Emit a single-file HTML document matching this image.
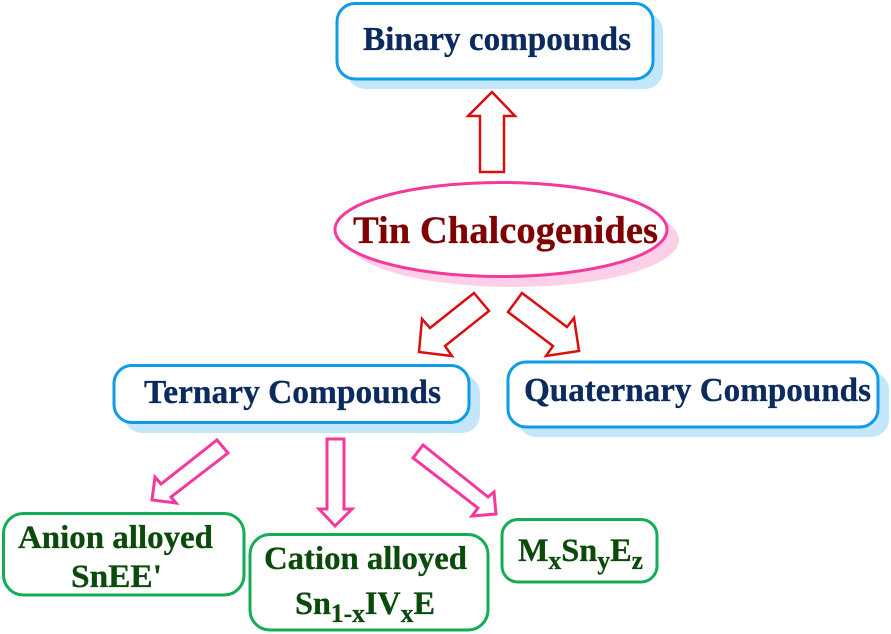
<!DOCTYPE html>
<html>
<head>
<meta charset="utf-8">
<style>
html,body{margin:0;padding:0;background:#fff;}
svg{display:block;}
text{font-family:"Liberation Serif",serif;font-weight:bold;}
.n{fill:#0b2a5e;stroke:#0b2a5e;stroke-width:.3;font-size:34px;}
.g{fill:#0b4a0b;stroke:#0b4a0b;stroke-width:.3;font-size:33px;}
.bl{fill:#fff;stroke:#0f9be6;stroke-width:3;}
.gr{fill:#fff;stroke:#12ad56;stroke-width:3;}
.sh{fill:#c4e6fa;}
.r{fill:#fff;stroke:#d90e0e;stroke-width:2.500;stroke-linejoin:miter;}
.p{fill:#fff;stroke:#f5389b;stroke-width:3;stroke-linejoin:miter;}
</style>
</head>
<body>
<svg width="891" height="634" viewBox="0 0 891 634" xmlns="http://www.w3.org/2000/svg">
<rect class="sh" x="347" y="13" width="316" height="76" rx="18"/>
<rect class="bl" x="337" y="3.500" width="316" height="75.500" rx="18"/>
<text class="n" x="363" y="50" textLength="268" lengthAdjust="spacingAndGlyphs">Binary compounds</text>

<polygon class="r" points="492,92 468,116 480,116 480,172 504,172 504,116 515,116"/>

<ellipse cx="513" cy="240" rx="166" ry="47" fill="#fdd0e8"/>
<ellipse cx="501" cy="229.500" rx="166" ry="47" fill="#fff" stroke="#f5389b" stroke-width="3"/>
<text x="353" y="243" textLength="305" lengthAdjust="spacingAndGlyphs" style="fill:#7f0000;stroke:#7f0000;stroke-width:.3;font-size:39px">Tin Chalcogenides</text>

<polygon class="r" points="474,293 489,311 445,346 452,356 419,352 422,319 430,328"/>
<polygon class="r" points="522,293 508,312 553,346 546,356 579,351 574,318 567,327"/>

<rect class="sh" x="124" y="375" width="356" height="58" rx="18"/>
<rect class="bl" x="114" y="365.500" width="355" height="57" rx="18"/>
<text class="n" x="144" y="403" textLength="297" lengthAdjust="spacingAndGlyphs">Ternary Compounds</text>

<rect class="sh" x="518" y="372" width="371" height="65" rx="18"/>
<rect class="bl" x="508" y="362" width="370" height="65" rx="18"/>
<text class="n" x="524" y="401" textLength="347" lengthAdjust="spacingAndGlyphs">Quaternary Compounds</text>

<polygon class="p" points="217,440 228,453 171,497 176,503 152,500 155,477 161,484"/>
<polygon class="p" points="327,439 344,439 344,509 352,509 335,526 319,509 327,509"/>
<polygon class="p" points="423,445 413,458 478,508 472,516 496,514 494,492 488,497"/>

<rect class="gr" x="3.500" y="513.500" width="240.500" height="81.500" rx="20"/>
<text class="g" x="18" y="548" textLength="195" lengthAdjust="spacingAndGlyphs">Anion alloyed</text>
<text class="g" x="71" y="587" textLength="91" lengthAdjust="spacingAndGlyphs">SnEE'</text>

<rect class="gr" x="250" y="534.500" width="238" height="95.500" rx="20"/>
<text class="g" x="264" y="569" textLength="203" lengthAdjust="spacingAndGlyphs">Cation alloyed</text>
<text class="g" x="295" y="614" textLength="140" lengthAdjust="spacingAndGlyphs">Sn<tspan dy="8" font-size="26">1-x</tspan><tspan dy="-8">IV</tspan><tspan dy="8" font-size="26">x</tspan><tspan dy="-8">E</tspan></text>

<rect class="gr" x="502" y="519.500" width="155" height="62.500" rx="16"/>
<text class="g" x="518" y="561" textLength="125" lengthAdjust="spacingAndGlyphs">M<tspan dy="8" font-size="26">x</tspan><tspan dy="-8">Sn</tspan><tspan dy="8" font-size="26">y</tspan><tspan dy="-8">E</tspan><tspan dy="8" font-size="26">z</tspan></text>
</svg>
</body>
</html>
